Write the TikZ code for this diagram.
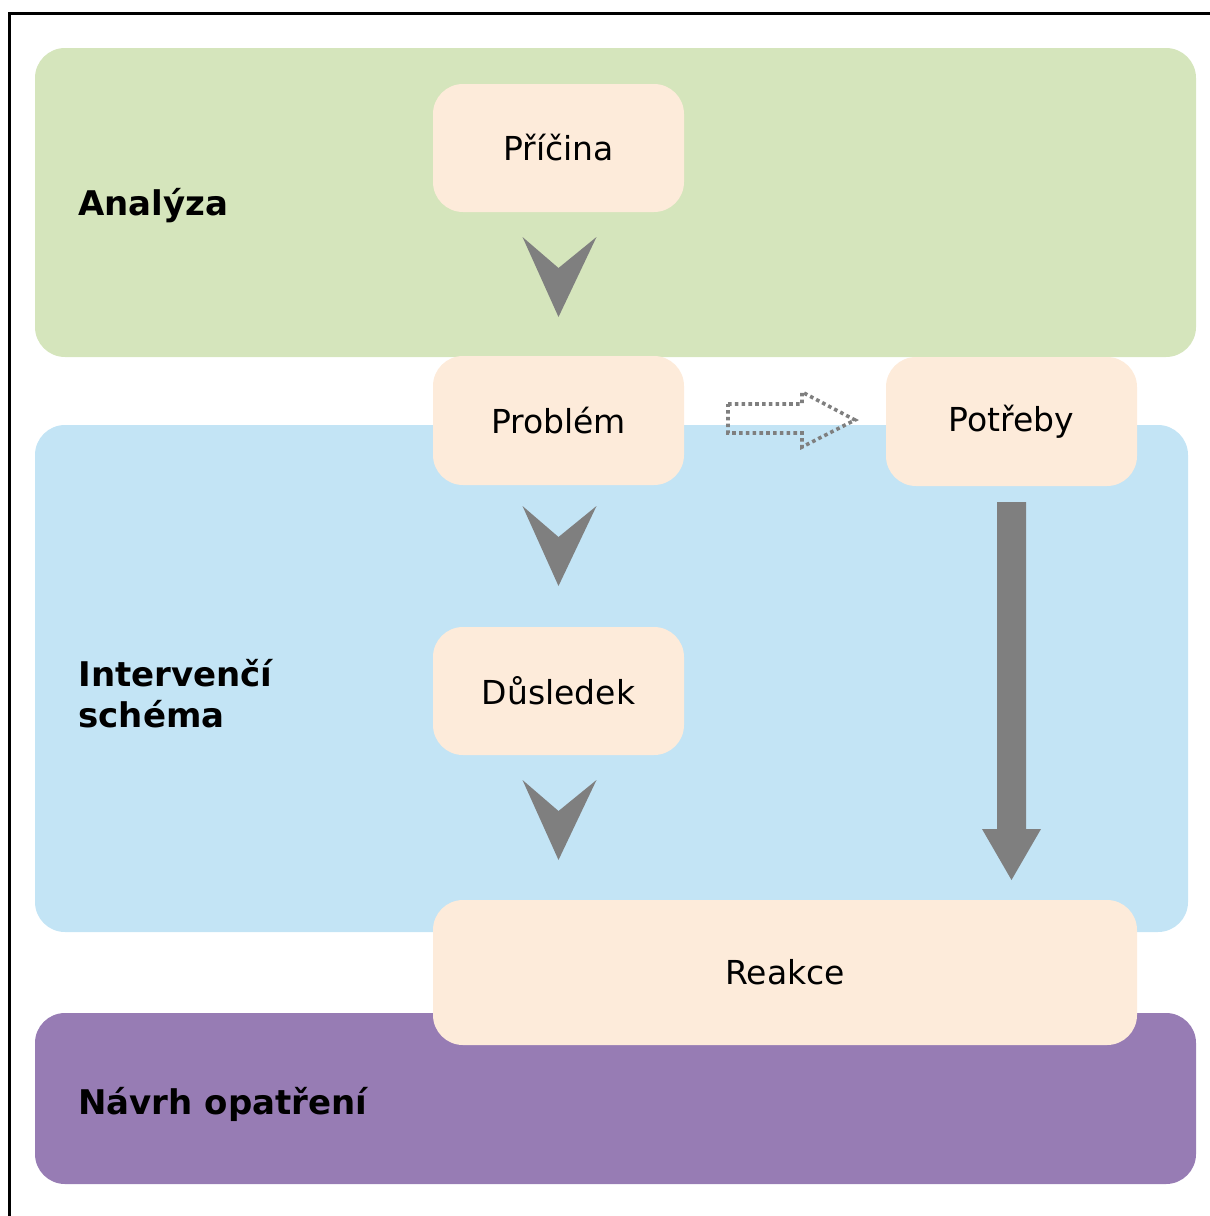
\documentclass[tikz,border=0pt]{standalone}
\usepackage{fontspec}
\setmainfont{DejaVu Sans}
\definecolor{pgreen}{HTML}{D5E5BC}
\definecolor{pblue}{HTML}{C3E4F5}
\definecolor{ppurple}{HTML}{977CB4}
\definecolor{peach}{HTML}{FDEBDA}
\definecolor{agray}{HTML}{7F7F7F}
\tikzset{
  panel/.style={rounded corners=15pt},
  box/.style={fill=peach, rounded corners=15pt, inner sep=0pt, font=\fontsize{16.5}{20}\selectfont},
  lbl/.style={anchor=base west, inner sep=0pt, font=\bfseries\fontsize{17}{20}\selectfont},
  chev/.style={fill=agray},
  dotarrow/.style={draw=agray, line width=1.8pt, dash pattern=on 1.8pt off 1.6pt}
}
\begin{document}
\begin{tikzpicture}[x=0.5pt,y=-0.5pt]
\useasboundingbox (0,0) rectangle (1210,1216);
% border
\draw[line width=1.5pt] (9,1220) -- (9,13) -- (1214,13);
% panels
\fill[pgreen, panel] (35,48) rectangle (1196,357);
\fill[pblue, panel] (35,425) rectangle (1188,932);
\fill[ppurple, panel] (35,1013) rectangle (1196,1184);
% labels
\node[lbl] (analyza) at (78,215) {Analýza};
\node[lbl] (interv1) at (78,686) {Intervenčí};
\node[lbl] (interv2) at (78,727) {schéma};
\node[lbl] (navrh) at (78,1114) {Návrh opatření};
% boxes
\node[box, minimum width=125.5pt, minimum height=64pt] (pricina) at (558.5,148) {Příčina};
\node[box, minimum width=125.5pt, minimum height=64.5pt] (problem) at (558.5,420.5) {Problém};
\node[box, minimum width=125.5pt, minimum height=64.5pt] (potreby) at (1011.5,421.5) {Potřeby};
\node[box, minimum width=125.5pt, minimum height=64pt] (dusledek) at (558.5,691) {Důsledek};
\node[box, minimum width=352pt, minimum height=72.5pt] (reakce) at (785,972.5) {Reakce};
% chevrons
\foreach \t in {237,506,780}{
  \fill[chev] (522.5,\t) -- (558.5,\t+31) -- (596.5,\t) -- (558.5,\t+80) -- cycle;
}
% big arrow from Potřeby to Reakce
\fill[chev] (997,502) -- (1026,502) -- (1026,829) -- (1041,829) -- (1011.5,880) -- (982,829) -- (997,829) -- cycle;
% dotted arrow from Problém to Potřeby
\draw[dotarrow] (728,404) -- (802,404) -- (802,392) -- (855,420) -- (802,447) -- (802,433) -- (728,433) -- cycle;
\end{tikzpicture}
\end{document}
